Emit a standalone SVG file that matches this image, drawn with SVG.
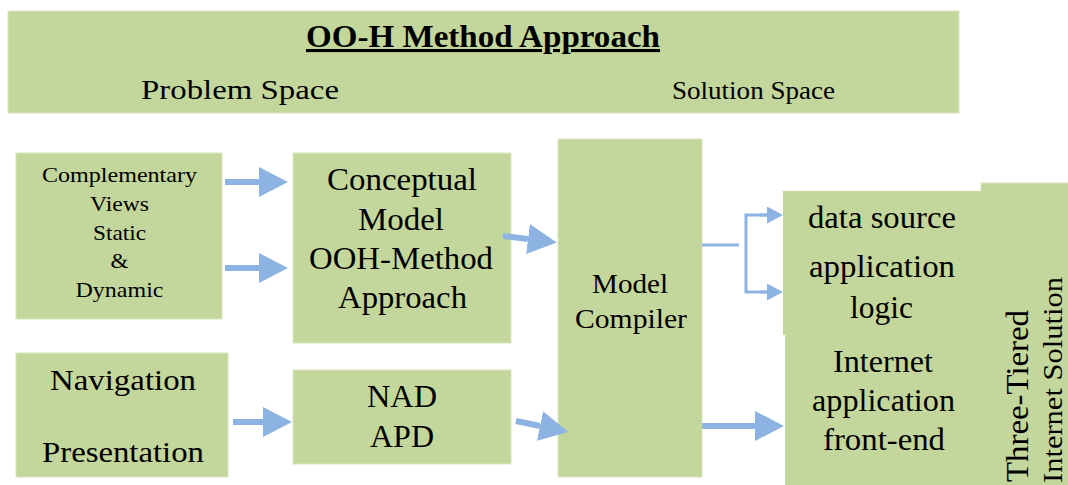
<svg xmlns="http://www.w3.org/2000/svg" width="1068" height="485" viewBox="0 0 1068 485">
  <style>
    .box { fill: #c3d69b; stroke: #d9e5c0; stroke-width: 1; }
    text { font-family: 'Liberation Serif', 'Times New Roman', Times, serif; fill: #000; text-anchor: middle; }
    .arr { stroke: #8db3e2; stroke-width: 6; fill: none; }
    .thin { stroke: #8db3e2; stroke-width: 3; fill: none; }
  </style>
  <defs>
    <marker id="head" markerUnits="userSpaceOnUse" markerWidth="30" markerHeight="30" refX="0" refY="15" orient="auto">
      <path d="M0,0 L29,15 L0,30 Z" fill="#8db3e2"/>
    </marker>
    <marker id="headSmall" markerUnits="userSpaceOnUse" markerWidth="16" markerHeight="17" refX="0" refY="8.5" orient="auto">
      <path d="M0,0 L16,8.5 L0,17 Z" fill="#8db3e2"/>
    </marker>
  </defs>
  <rect width="1068" height="485" fill="#ffffff"/>

  <g id="banner">
    <rect class="box" x="8" y="11" width="951" height="102"/>
    <text x="483" y="47" font-size="31" font-weight="bold" text-decoration="underline" textLength="354" lengthAdjust="spacingAndGlyphs">OO-H Method Approach</text>
    <text x="240" y="99" font-size="28" textLength="198" lengthAdjust="spacingAndGlyphs">Problem Space</text>
    <text x="753.5" y="99" font-size="26" textLength="163" lengthAdjust="spacingAndGlyphs">Solution Space</text>
  </g>

  <g id="complementary">
    <rect class="box" x="16" y="153" width="206" height="166"/>
    <text x="119.5" y="182" font-size="22" textLength="155" lengthAdjust="spacingAndGlyphs">Complementary</text>
    <text x="119.5" y="211" font-size="22" textLength="59" lengthAdjust="spacingAndGlyphs">Views</text>
    <text x="119.5" y="240" font-size="22" textLength="53" lengthAdjust="spacingAndGlyphs">Static</text>
    <text x="119.5" y="268" font-size="22" textLength="18" lengthAdjust="spacingAndGlyphs">&amp;</text>
    <text x="119.5" y="297" font-size="22" textLength="88" lengthAdjust="spacingAndGlyphs">Dynamic</text>
  </g>

  <g id="conceptual">
    <rect class="box" x="293" y="153" width="218" height="190"/>
    <text x="402" y="190" font-size="32" textLength="150" lengthAdjust="spacingAndGlyphs">Conceptual</text>
    <text x="401" y="230" font-size="32" textLength="86" lengthAdjust="spacingAndGlyphs">Model</text>
    <text x="401" y="269" font-size="32" textLength="184" lengthAdjust="spacingAndGlyphs">OOH-Method</text>
    <text x="402.5" y="308" font-size="32" textLength="129" lengthAdjust="spacingAndGlyphs">Approach</text>
  </g>

  <g id="navigation">
    <rect class="box" x="16" y="353" width="212" height="124"/>
    <text x="123" y="390" font-size="30" textLength="146" lengthAdjust="spacingAndGlyphs">Navigation</text>
    <text x="123" y="462" font-size="30" textLength="162" lengthAdjust="spacingAndGlyphs">Presentation</text>
  </g>

  <g id="nad-apd">
    <rect class="box" x="293" y="370" width="218" height="94"/>
    <text x="402" y="407" font-size="32" textLength="70" lengthAdjust="spacingAndGlyphs">NAD</text>
    <text x="402" y="447" font-size="32" textLength="64" lengthAdjust="spacingAndGlyphs">APD</text>
  </g>

  <g id="model-compiler">
    <rect class="box" x="558" y="139" width="144" height="338"/>
    <text x="630" y="293" font-size="27" textLength="76" lengthAdjust="spacingAndGlyphs">Model</text>
    <text x="631" y="328" font-size="27" textLength="112" lengthAdjust="spacingAndGlyphs">Compiler</text>
  </g>

  <g id="three-tiered">
    <rect class="box" x="981" y="183" width="88" height="303"/>
    <text x="1028" y="396" font-size="31" transform="rotate(-90 1028 396)" textLength="172" lengthAdjust="spacingAndGlyphs">Three-Tiered</text>
    <text x="1062" y="380" font-size="28" transform="rotate(-90 1062 380)" textLength="206" lengthAdjust="spacingAndGlyphs">Internet Solution</text>
  </g>

  <g id="data-logic">
    <rect x="783" y="191" width="202" height="144" fill="#c3d69b"/>
    <text x="882" y="228" font-size="31" textLength="148" lengthAdjust="spacingAndGlyphs">data source</text>
    <text x="882" y="277" font-size="31" textLength="146" lengthAdjust="spacingAndGlyphs">application</text>
    <text x="881.5" y="318" font-size="31" textLength="63" lengthAdjust="spacingAndGlyphs">logic</text>
  </g>

  <g id="front-end">
    <rect x="785" y="335" width="200" height="151" fill="#c3d69b"/>
    <text x="883" y="372" font-size="31" textLength="100" lengthAdjust="spacingAndGlyphs">Internet</text>
    <text x="883.5" y="411" font-size="31" textLength="143" lengthAdjust="spacingAndGlyphs">application</text>
    <text x="884" y="450" font-size="31" textLength="122" lengthAdjust="spacingAndGlyphs">front-end</text>
  </g>

  <g id="connectors">
    <line class="arr" x1="225" y1="182" x2="259" y2="182" marker-end="url(#head)"/>
    <line class="arr" x1="225" y1="268" x2="259" y2="268" marker-end="url(#head)"/>
    <line class="arr" x1="503" y1="236" x2="528" y2="239" marker-end="url(#head)"/>
    <line class="arr" x1="233" y1="422" x2="263" y2="422" marker-end="url(#head)"/>
    <line class="arr" x1="516" y1="421" x2="540" y2="426" marker-end="url(#head)"/>
    <line class="arr" x1="702" y1="426" x2="755" y2="426" marker-end="url(#head)"/>
    <line class="thin" x1="702" y1="245" x2="739" y2="245"/>
    <path class="thin" d="M767,215 H746 V292 H767"/>
    <line class="thin" x1="760" y1="215" x2="767" y2="215" marker-end="url(#headSmall)"/>
    <line class="thin" x1="760" y1="292" x2="767" y2="292" marker-end="url(#headSmall)"/>
  </g>
</svg>
